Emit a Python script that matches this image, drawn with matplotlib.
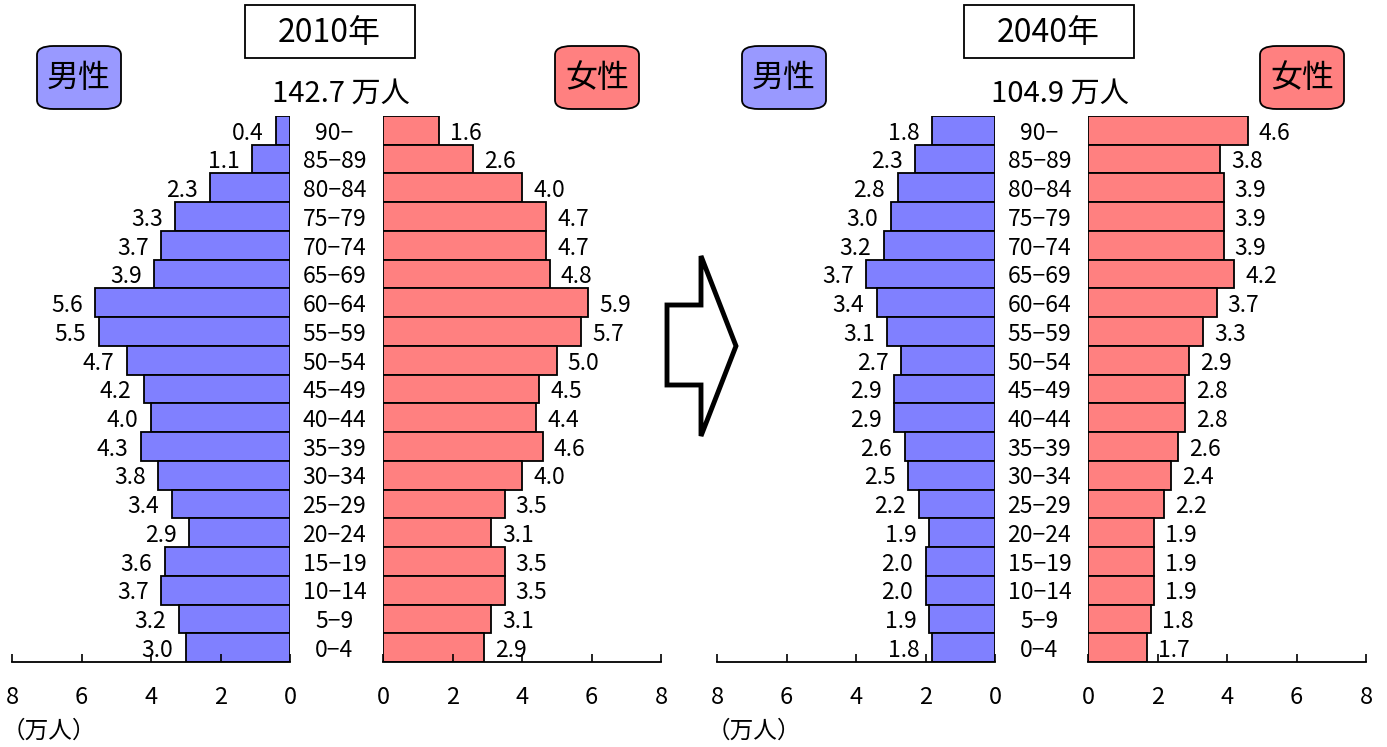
import matplotlib
matplotlib.use("Agg")
import matplotlib.pyplot as plt
from matplotlib.patches import FancyBboxPatch, Polygon, Rectangle
from matplotlib.transforms import blended_transform_factory

plt.rcParams['font.family'] = ['Noto Sans CJK JP', 'DejaVu Sans']

# age groups, oldest first (top of the pyramid)
ages = ["90−", "85−89", "80−84", "75−79", "70−74", "65−69", "60−64", "55−59",
        "50−54", "45−49", "40−44", "35−39", "30−34", "25−29", "20−24",
        "15−19", "10−14", "5−9", "0−4"]

male_2010 = [0.4, 1.1, 2.3, 3.3, 3.7, 3.9, 5.6, 5.5, 4.7, 4.2, 4.0, 4.3,
             3.8, 3.4, 2.9, 3.6, 3.7, 3.2, 3.0]
female_2010 = [1.6, 2.6, 4.0, 4.7, 4.7, 4.8, 5.9, 5.7, 5.0, 4.5, 4.4, 4.6,
               4.0, 3.5, 3.1, 3.5, 3.5, 3.1, 2.9]
male_2040 = [1.8, 2.3, 2.8, 3.0, 3.2, 3.7, 3.4, 3.1, 2.7, 2.9, 2.9, 2.6,
             2.5, 2.2, 1.9, 2.0, 2.0, 1.9, 1.8]
female_2040 = [4.6, 3.8, 3.9, 3.9, 3.9, 4.2, 3.7, 3.3, 2.9, 2.8, 2.8, 2.6,
               2.4, 2.2, 1.9, 1.9, 1.9, 1.8, 1.7]

years = ["2010年", "2040年"]
totals = ["142.7 万人", "104.9 万人"]
ticks = [0, 2, 4, 6, 8]

W, H = 1387, 747
fig = plt.figure(figsize=(W / 100, H / 100), dpi=100)


def fx(px):
    return px / W


def fy(py):
    return 1 - py / H


def style_axis(ax):
    for s in ["left", "right", "top"]:
        ax.spines[s].set_visible(False)
    ax.spines["bottom"].set_linewidth(1.3)
    ax.set_yticks([])
    ax.set_xlim(0, 8)
    ax.set_xticks(ticks)
    ax.set_xticklabels([str(t) for t in ticks])
    ax.tick_params(axis="x", direction="in", length=6, width=1.2, pad=17,
                   labelsize=17)
    ax.set_ylim(-0.5, len(ages) - 0.5)
    ax.patch.set_alpha(0)


def pyramid(x0, x1, male, female, year, total):
    # x0: pixel offset of the axes, x1: pixel offset of the titles
    top, bottom = 116, 662
    ax_m = fig.add_axes([fx(x0 + 12), fy(bottom), fx(278), (bottom - top) / H])
    ax_f = fig.add_axes([fx(x0 + 383), fy(bottom), fx(278), (bottom - top) / H])
    ypos = list(range(len(ages) - 1, -1, -1))

    style_axis(ax_m)
    ax_m.invert_xaxis()
    ax_m.barh(ypos, male, height=1.0, color="#8080FF", edgecolor="black",
              linewidth=1.3)
    for y, v in zip(ypos, male):
        ax_m.annotate(f"{v:.1f}", (v, y), xytext=(-9, -2), textcoords="offset points",
                      ha="right", va="center", fontsize=16.5)

    style_axis(ax_f)
    ax_f.barh(ypos, female, height=1.0, color="#FF8080", edgecolor="black",
              linewidth=1.3)
    for y, v in zip(ypos, female):
        ax_f.annotate(f"{v:.1f}", (v, y), xytext=(8, -2), textcoords="offset points",
                      ha="left", va="center", fontsize=16.5)

    for y, a in zip(ypos, ages):
        ax_f.annotate(a, (0, y), xytext=(-35, -2), textcoords="offset points",
                      ha="center", va="center", fontsize=16.5,
                      annotation_clip=False)

    # year box
    fig.patches.append(Rectangle((fx(x1 + 245), fy(58)), fx(170), 53 / H,
                                 transform=fig.transFigure, fc="white",
                                 ec="black", lw=1.3))
    fig.text(fx(x1 + 329), fy(33), year, ha="center", va="center", fontsize=23)
    fig.text(fx(x1 + 341), fy(94), total, ha="center", va="center", fontsize=21)

    # sex labels
    for cx, lab, col in [(x0 + 79, "男性", "#9999FF"), (x0 + 597, "女性", "#FF8080")]:
        box = FancyBboxPatch((fx(cx - 42), fy(109)), fx(84), 63 / H,
                             boxstyle="round,pad=0,rounding_size=0.012",
                             transform=fig.transFigure, fc=col, ec="black", lw=1.3)
        fig.patches.append(box)
        fig.text(fx(cx), fy(78), lab, ha="center", va="center", fontsize=23)

    fig.text(fx(x0 + 2), fy(731), "（万人）", ha="left", va="center", fontsize=17)


pyramid(0, 0, male_2010, female_2010, years[0], totals[0])
pyramid(705, 719, male_2040, female_2040, years[1], totals[1])

# arrow between panels
arrow_px = [(667, 305), (701, 305), (701, 256), (736, 346), (701, 436),
            (701, 385), (667, 385)]
arrow = Polygon([(fx(x), fy(y)) for x, y in arrow_px], closed=True,
                transform=fig.transFigure, fc="white", ec="black", lw=3.5,
                joinstyle="miter")
fig.patches.append(arrow)

fig.savefig("out.png", dpi=100)
